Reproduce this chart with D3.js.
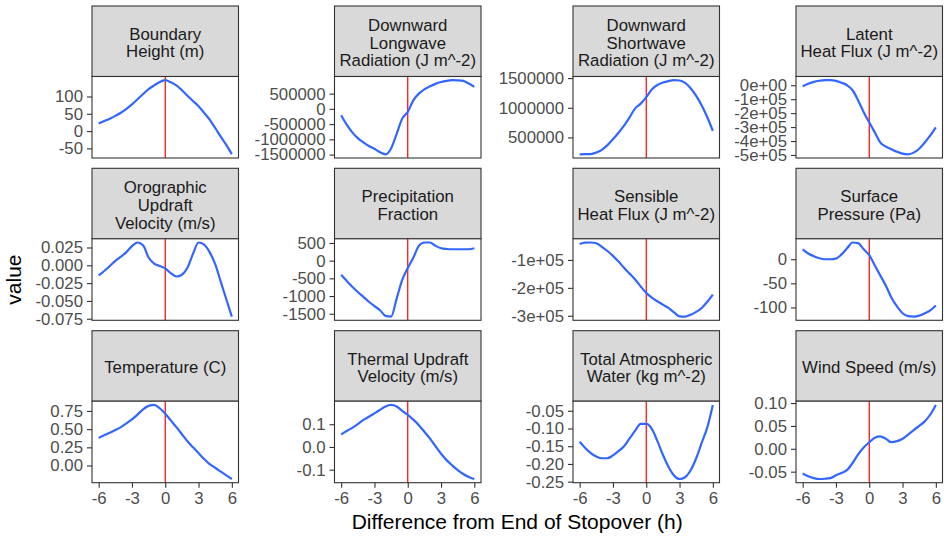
<!DOCTYPE html>
<html>
<head>
<meta charset="utf-8">
<script src="https://cdn.jsdelivr.net/npm/d3@7"></script>
<style>
  body { margin: 0; background: #fff; }
  text { font-family: "Liberation Sans", Arial, sans-serif; }
</style>
</head>
<body>
<script>
// hours relative to end of stopover
var hours = [-6,-5.5,-5,-4.5,-4,-3.5,-3,-2.5,-2,-1.5,-1,-0.5,0,0.5,1,1.5,2,2.5,3,3.5,4,4.5,5,5.5,6];

var boundaryHeight = [22,29,36,44,53,64,77,92,107,121,132,142,147,141,132,118,102,87,72,53,33,9,-16,-40,-67];
var longwave = [-210000,-520000,-770000,-960000,-1100000,-1220000,-1310000,-1420000,-1490000,-1300000,-820000,-320000,-100000,280000,500000,640000,740000,820000,880000,920000,940000,935000,920000,830000,720000];
var shortwave = [216000,218000,220000,245000,290000,370000,470000,580000,700000,840000,990000,1070000,1180000,1310000,1385000,1425000,1450000,1465000,1460000,1420000,1330000,1200000,1040000,840000,610000];
var latent = [-7000,10000,24000,32000,36000,36000,31000,18000,0,-36000,-109000,-193000,-266000,-338000,-411000,-440000,-459000,-477000,-490000,-495000,-483000,-455000,-411000,-360000,-302000];
var orographic = [-0.0143,-0.008,-0.001,0.0063,0.0122,0.0185,0.027,0.032,0.028,0.011,0.0024,-0.001,-0.0044,-0.011,-0.0157,-0.0132,-0.0035,0.016,0.032,0.029,0.0185,0.0015,-0.023,-0.0476,-0.072];
var precipitation = [-398,-570,-735,-885,-1023,-1160,-1282,-1400,-1560,-1580,-1072,-542,-207,81,418,513,513,418,351,330,322,322,322,322,351];
var sensible = [-43000,-38000,-37500,-40000,-53000,-68000,-85500,-106000,-128000,-149000,-170000,-195000,-218000,-235000,-248000,-260000,-272000,-288000,-302000,-303000,-296000,-286000,-272000,-250000,-224000];
var pressure = [20.6,12,6.4,2,0,0,1.4,10,22.7,34.7,33.3,20.6,8.5,-12.8,-34,-55,-80,-98,-112,-118,-119,-117,-112,-106,-96];
var temperature = [0.379,0.415,0.449,0.488,0.528,0.578,0.634,0.70,0.773,0.82,0.833,0.787,0.713,0.62,0.528,0.43,0.333,0.25,0.171,0.09,0.019,-0.03,-0.083,-0.135,-0.185];
var thermal = [0.055,0.07,0.084,0.10,0.119,0.133,0.148,0.163,0.178,0.185,0.178,0.159,0.141,0.12,0.096,0.067,0.037,0.003,-0.03,-0.058,-0.081,-0.102,-0.119,-0.132,-0.141];
var water = [-0.1375,-0.155,-0.1695,-0.179,-0.184,-0.184,-0.176,-0.164,-0.15,-0.128,-0.106,-0.087,-0.087,-0.101,-0.135,-0.174,-0.208,-0.2325,-0.2425,-0.2375,-0.218,-0.184,-0.14,-0.0967,-0.0334];
var wind = [-0.054,-0.06,-0.064,-0.066,-0.0655,-0.064,-0.058,-0.053,-0.046,-0.031,-0.012,0.003,0.014,0.0244,0.0274,0.022,0.0144,0.0167,0.022,0.031,0.041,0.05,0.06,0.075,0.096];

var xTicks = [-6,-3,0,3,6];

var titles = [
  ["Boundary","Height (m)"],
  ["Downward","Longwave","Radiation (J m^-2)"],
  ["Downward","Shortwave","Radiation (J m^-2)"],
  ["Latent","Heat Flux (J m^-2)"],
  ["Orographic","Updraft","Velocity (m/s)"],
  ["Precipitation","Fraction"],
  ["Sensible","Heat Flux (J m^-2)"],
  ["Surface","Pressure (Pa)"],
  ["Temperature (C)"],
  ["Thermal Updraft","Velocity (m/s)"],
  ["Total Atmospheric","Water (kg m^-2)"],
  ["Wind Speed (m/s)"]
];
var series = [boundaryHeight, longwave, shortwave, latent, orographic, precipitation,
              sensible, pressure, temperature, thermal, water, wind];

var yTicks = [
  [-50,0,50,100],
  [-1500000,-1000000,-500000,0,500000],
  [500000,1000000,1500000],
  [-500000,-400000,-300000,-200000,-100000,0],
  [-0.075,-0.05,-0.025,0,0.025],
  [-1500,-1000,-500,0,500],
  [-300000,-200000,-100000],
  [-100,-50,0],
  [0,0.25,0.5,0.75],
  [-0.1,0,0.1],
  [-0.25,-0.2,-0.15,-0.1,-0.05],
  [-0.05,0,0.05,0.1]
];
var yLabels = [
  ["-50","0","50","100"],
  ["-1500000","-1000000","-500000","0","500000"],
  ["500000","1000000","1500000"],
  ["-5e+05","-4e+05","-3e+05","-2e+05","-1e+05","0e+00"],
  ["-0.075","-0.050","-0.025","0.000","0.025"],
  ["-1500","-1000","-500","0","500"],
  ["-3e+05","-2e+05","-1e+05"],
  ["-100","-50","0"],
  ["0.00","0.25","0.50","0.75"],
  ["-0.1","0.0","0.1"],
  ["-0.25","-0.20","-0.15","-0.10","-0.05"],
  ["-0.05","0.00","0.05","0.10"]
];

var W = 944, H = 541;
var colLeft = [92, 334.5, 573, 796],
    rowTop = [6, 168.3, 330.7];
var panelW = 146.5, stripH = 70.5, panelH = 81.5;
var tickLen = 5, tickPad = 4;

var svg = d3.select("body").append("svg")
  .attr("width", W)
  .attr("height", H);

series.forEach(function(vals, i) {
  var c = i % 4, r = Math.floor(i / 4);
  var left = colLeft[c], top = rowTop[r] + stripH, bottom = top + panelH;

  var x = d3.scaleLinear().domain([-6.6, 6.6]).range([left, left + panelW]);
  var ext = d3.extent(vals), pad = (ext[1] - ext[0]) * 0.05;
  var y = d3.scaleLinear().domain([ext[0] - pad, ext[1] + pad]).range([bottom, top]);

  var g = svg.append("g");

  // strip
  g.append("rect")
    .attr("x", left).attr("y", rowTop[r])
    .attr("width", panelW).attr("height", stripH)
    .attr("fill", "#d9d9d9").attr("stroke", "#333").attr("stroke-width", 1.1);
  var lines = titles[i], lh = 17.6;
  var cy = rowTop[r] + stripH / 2 + 1.5;
  lines.forEach(function(t, k) {
    g.append("text")
      .attr("x", left + panelW / 2)
      .attr("y", cy + (k - (lines.length - 1) / 2) * lh)
      .attr("dy", "0.35em")
      .attr("text-anchor", "middle")
      .attr("fill", "#1a1a1a")
      .style("font-size", "16.8px")
      .text(t);
  });

  // panel
  g.append("rect")
    .attr("x", left).attr("y", top)
    .attr("width", panelW).attr("height", panelH)
    .attr("fill", "#fff");

  g.append("line")
    .attr("x1", x(0)).attr("x2", x(0))
    .attr("y1", top).attr("y2", bottom)
    .attr("stroke", "#ff0000").attr("stroke-width", 1.2);

  var line = d3.line()
    .curve(d3.curveMonotoneX)
    .x(function(d, j) { return x(hours[j]); })
    .y(function(d) { return y(d); });

  g.append("path")
    .datum(vals)
    .attr("fill", "none")
    .attr("stroke", "#3366ff")
    .attr("stroke-width", 2.2)
    .attr("d", line);

  g.append("rect")
    .attr("x", left).attr("y", top)
    .attr("width", panelW).attr("height", panelH)
    .attr("fill", "none").attr("stroke", "#333").attr("stroke-width", 1.1);

  // y axis
  var yAxis = d3.axisLeft(y)
    .tickValues(yTicks[i])
    .tickFormat(function(d, j) { return yLabels[i][j]; })
    .tickSize(tickLen).tickPadding(tickPad);
  var ya = g.append("g")
    .attr("transform", "translate(" + left + ",0)")
    .call(yAxis);
  ya.select(".domain").remove();
  ya.selectAll(".tick line").attr("stroke", "#333").attr("stroke-width", 1.1);
  ya.selectAll(".tick text")
    .attr("fill", "#4d4d4d")
    .style("font-size", "16.8px")
    .style("font-family", "'Liberation Sans', Arial, sans-serif");

  // x axis only on bottom row
  if (r === 2) {
    var xAxis = d3.axisBottom(x)
      .tickValues(xTicks)
      .tickFormat(d3.format("d"))
      .tickSize(tickLen).tickPadding(tickPad);
    var xa = g.append("g")
      .attr("transform", "translate(0," + bottom + ")")
      .call(xAxis);
    xa.select(".domain").remove();
    xa.selectAll(".tick line").attr("stroke", "#333").attr("stroke-width", 1.1);
    xa.selectAll(".tick text")
      .attr("fill", "#4d4d4d")
      .style("font-size", "16.8px")
      .style("font-family", "'Liberation Sans', Arial, sans-serif")
      .text(function(d) { return d < 0 ? "-" + Math.abs(d) : d; });
  }
});

// axis titles
svg.append("text")
  .attr("x", (colLeft[0] + colLeft[3] + panelW) / 2)
  .attr("y", 529)
  .attr("text-anchor", "middle")
  .attr("fill", "#000")
  .style("font-size", "21px")
  .text("Difference from End of Stopover (h)");

svg.append("text")
  .attr("transform", "translate(21," + ((rowTop[0] + stripH + rowTop[2] + stripH + panelH) / 2) + ") rotate(-90)")
  .attr("text-anchor", "middle")
  .attr("fill", "#000")
  .style("font-size", "21px")
  .text("value");
</script>
</body>
</html>
